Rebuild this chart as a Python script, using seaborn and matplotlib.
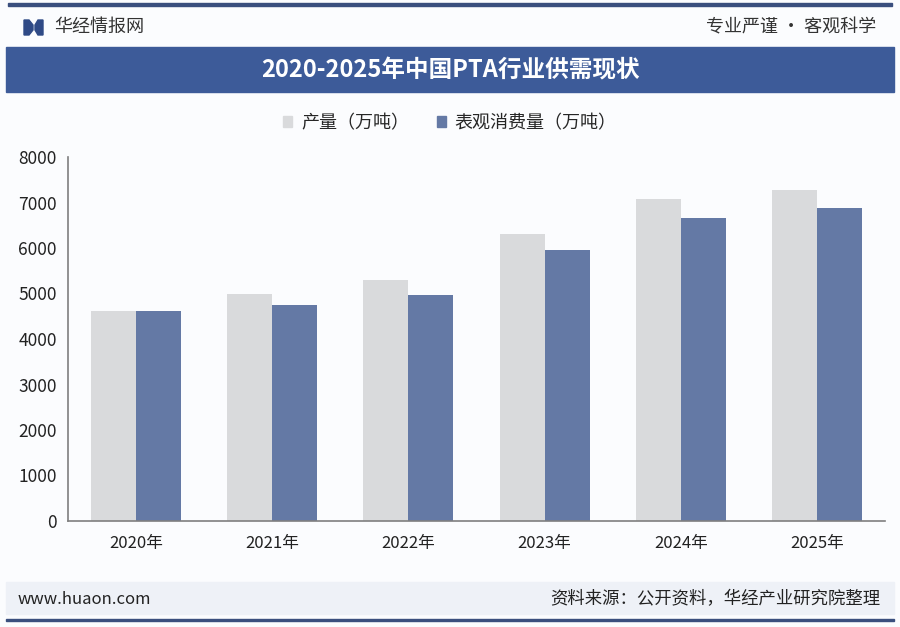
import numpy as np
import pandas as pd
import matplotlib
matplotlib.use("Agg")
import matplotlib.pyplot as plt
import seaborn as sns
from matplotlib.patches import Rectangle, Polygon

# data
years = ["2020年", "2021年", "2022年", "2023年", "2024年", "2025年"]
production = [4610, 5000, 5290, 6300, 7080, 7280]
consumption = [4610, 4750, 4970, 5960, 6660, 6890]
series_names = ["产量（万吨）", "表观消费量（万吨）"]
colors = ["#d9dadc", "#6479a5"]

df = pd.DataFrame({
    "year": years * 2,
    "value": production + consumption,
    "series": [series_names[0]] * len(years) + [series_names[1]] * len(years),
})

sns.set_style("white")
plt.rcParams["font.family"] = ["Noto Sans CJK SC", "DejaVu Sans"]

W, H = 900, 627
fig = plt.figure(figsize=(9, 6.27), dpi=100)
fig.patch.set_facecolor("#fbfcfe")

def fx(px):
    return px / W

def fy(py):
    return 1 - py / H

# header
fig.add_artist(Rectangle((fx(8), fy(6)), fx(884), 2.5 / H, color="#3a4f7e", transform=fig.transFigure))
fig.add_artist(Rectangle((fx(6), fy(92)), fx(888), 45 / H, color="#3d5b99", transform=fig.transFigure))
# little book logo
fig.add_artist(Polygon([(fx(24), fy(20)), (fx(29), fy(20)), (fx(33), fy(25)), (fx(33), fy(30)),
                        (fx(29), fy(35)), (fx(24), fy(35))], closed=True, color="#2f4a86",
                       transform=fig.transFigure))
fig.add_artist(Polygon([(fx(43), fy(20)), (fx(38), fy(20)), (fx(35), fy(25)), (fx(35), fy(30)),
                        (fx(38), fy(35)), (fx(43), fy(35))], closed=True, color="#2f4a86",
                       transform=fig.transFigure))
fig.text(fx(54), fy(27), "华经情报网", fontsize=13, color="#333333", va="center", ha="left")
fig.text(fx(876), fy(27), "专业严谨 • 客观科学", fontsize=13, color="#333333", va="center", ha="right")
fig.text(0.5, fy(70), "2020-2025年中国PTA行业供需现状", fontsize=17, color="white",
         fontweight="bold", va="center", ha="center")

# footer
fig.add_artist(Rectangle((fx(6), fy(614)), fx(888), 32 / H, color="#eef1f7", transform=fig.transFigure))
fig.add_artist(Rectangle((fx(6), fy(621)), fx(888), 2.5 / H, color="#3a4f7e", transform=fig.transFigure))
fig.text(fx(18), fy(599), "www.huaon.com", fontsize=12, color="#222222", va="center", ha="left")
fig.text(fx(880), fy(599), "资料来源：公开资料，华经产业研究院整理", fontsize=12.5, color="#222222",
         va="center", ha="right")

# chart
ax = fig.add_axes([fx(68), fy(521), fx(885 - 68), (521 - 157) / H])
ax.set_facecolor("none")
sns.barplot(data=df, x="year", y="value", hue="series", palette=colors, width=0.66,
            saturation=1, linewidth=0, ax=ax, legend=False)

ax.set_ylim(0, 8000)
ax.set_yticks(np.arange(0, 8001, 1000))
ax.set_xlim(-0.5, len(years) - 0.5)
ax.set_xlabel("")
ax.set_ylabel("")
for s in ["top", "right"]:
    ax.spines[s].set_visible(False)
for s in ["left", "bottom"]:
    ax.spines[s].set_color("#7f7f7f")
    ax.spines[s].set_linewidth(1.2)
ax.tick_params(axis="y", labelsize=12.5, colors="#222222", length=4, width=1, color="#7f7f7f", pad=4)
ax.tick_params(axis="x", which="major", labelsize=12, colors="#222222", length=0, pad=10)
ax.set_xticks(np.arange(-0.5, len(years), 1.0), minor=True)
ax.tick_params(axis="x", which="minor", length=5, width=1, color="#7f7f7f")

# legend
handles = [Rectangle((0, 0), 1, 1, color=c) for c in colors]
fig.legend(handles, series_names, loc="center", bbox_to_anchor=(0.5, fy(123)), ncol=2,
           frameon=False, fontsize=13, handlelength=0.5, handleheight=0.5,
           handletextpad=0.5, columnspacing=1.5)

fig.savefig("out.png", dpi=100, facecolor=fig.get_facecolor())
